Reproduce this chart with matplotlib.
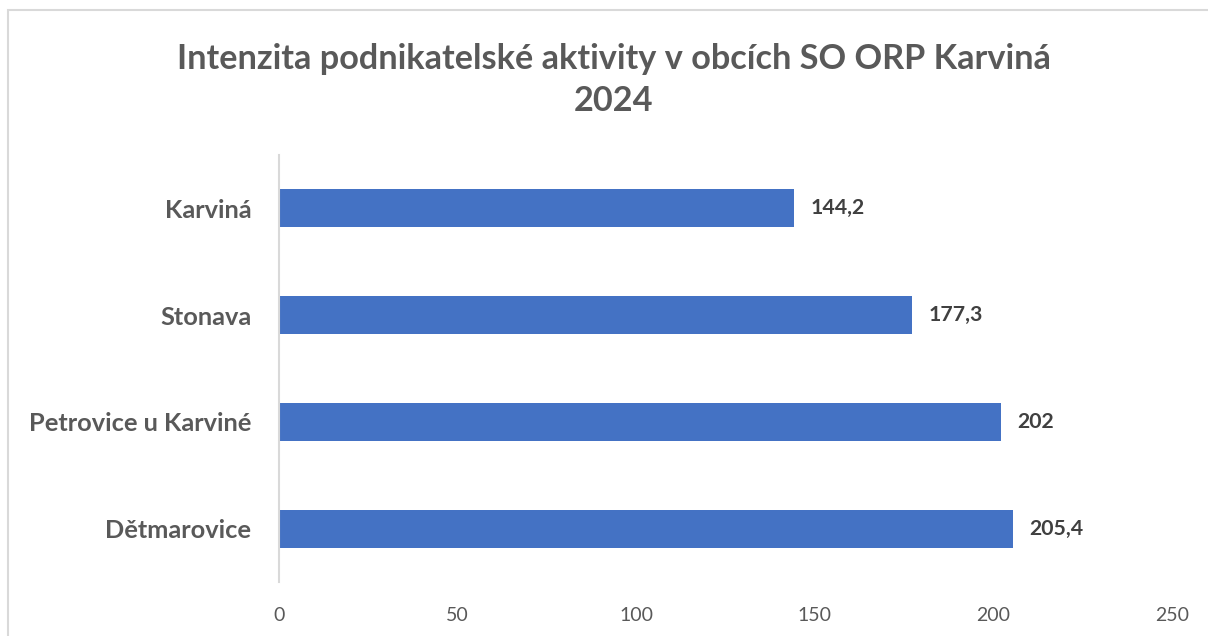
import matplotlib.pyplot as plt
from matplotlib.patches import Rectangle

obce = ['Karviná', 'Stonava', 'Petrovice u Karviné', 'Dětmarovice']
hodnoty = [144.2, 177.3, 202, 205.4]
popisky = ['144,2', '177,3', '202', '205,4']
xticks = [0, 50, 100, 150, 200, 250]

plt.rcParams['font.family'] = ['Lato', 'DejaVu Sans']
gray = '#595959'

fig = plt.figure(figsize=(12.08, 6.36), dpi=100)
ax = fig.add_axes([279/1208, 1 - 582/636, (1172 - 279)/1208, (582 - 155)/636])

# frame of the chart area (cropped on the right and bottom)
fig.patches.append(Rectangle((8/1208, -0.1), 1.2, 1 - 10/636 + 0.1, transform=fig.transFigure,
                             fill=False, edgecolor='#d9d9d9', linewidth=1.5))

y = list(range(len(obce)))
ax.barh(y, hodnoty, height=0.355, color='#4472c4')
for yi, v, t in zip(y, hodnoty, popisky):
    ax.annotate(t, (v, yi), xytext=(12, 0), textcoords='offset points', va='center',
                ha='left', fontsize=15.3, fontweight='bold', color='#404040')

ax.set_yticks(y)
ax.set_yticklabels(obce, fontsize=18.3, fontweight='bold', color=gray)
ax.set_ylim(len(obce) - 0.5, -0.5)
ax.set_xlim(0, 250)
ax.set_xticks(xticks)
ax.set_xticklabels([str(t) for t in xticks], fontsize=14, color=gray)
ax.tick_params(length=0)
ax.tick_params(axis='x', pad=18)
ax.tick_params(axis='y', pad=20)
for s in ['top', 'right', 'bottom']:
    ax.spines[s].set_visible(False)
ax.spines['left'].set_color('#d9d9d9')
ax.spines['left'].set_linewidth(1.5)

fig.text(0.508, 1 - 80/636, 'Intenzita podnikatelské aktivity v obcích SO ORP Karviná\n2024',
         ha='center', va='center', fontsize=24.7, fontweight='bold', color=gray, linespacing=1.38)

fig.savefig('out.png', dpi=100)
